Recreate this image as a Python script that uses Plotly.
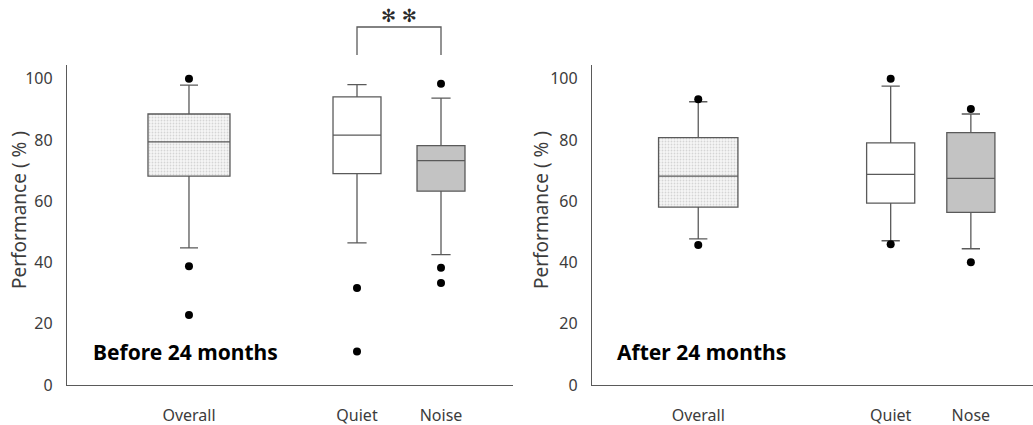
import plotly.graph_objects as go
from plotly.subplots import make_subplots

# ---- data ----
categories_before = ["Overall", "Quiet", "Noise"]
pos_before = [1.0, 3.0, 4.0]
q1_before = [68.2, 69.0, 63.3]
median_before = [79.4, 81.6, 73.3]
q3_before = [88.5, 94.1, 78.2]
low_before = [44.8, 46.4, 42.6]
high_before = [97.9, 98.1, 93.7]
outliers_before = [[100.0, 38.8, 22.9], [31.7, 10.9], [98.4, 38.3, 33.3]]

categories_after = ["Overall", "Quiet", "Nose"]
pos_after = [1.0, 3.4, 4.4]
q1_after = [58.1, 59.4, 56.4]
median_after = [68.2, 68.8, 67.5]
q3_after = [80.8, 79.1, 82.4]
low_after = [47.7, 47.1, 44.5]
high_after = [92.5, 97.6, 88.5]
outliers_after = [[93.3, 45.7], [100.0, 46.0], [90.1, 40.1]]

y_ticks = [0, 20, 40, 60, 80, 100]

# ---- styles ----
W, H = 1033, 425
line_c = "#5a5a5a"
txt_c = "#3c3c3c"
widths_before = [0.976, 0.571, 0.571]
widths_after = [0.99, 0.6, 0.6]
whisk_before = [0.22, 0.4, 0.4]
whisk_after = [0.23, 0.38, 0.38]
fills = ["pattern", "white", "#c3c3c3"]

fig = make_subplots(rows=1, cols=2)


def add_panel(col, cats, pos, q1, med, q3, lo, hi, outs, widths, whisk):
    for i in range(len(cats)):
        if fills[i] == "pattern":
            fig.add_trace(go.Bar(
                x=[pos[i]], base=[q1[i]], y=[q3[i] - q1[i]], width=widths[i],
                marker=dict(color="white", line=dict(width=0),
                            pattern=dict(shape=".", fgcolor="#b4b4b4", bgcolor="#f6f6f6",
                                         size=3, solidity=0.3)),
                showlegend=False, hoverinfo="skip"), row=1, col=col)
            fc = "rgba(0,0,0,0)"
        else:
            fc = fills[i]
        fig.add_trace(go.Box(
            x=[pos[i]], q1=[q1[i]], median=[med[i]], q3=[q3[i]],
            lowerfence=[lo[i]], upperfence=[hi[i]], width=widths[i],
            whiskerwidth=whisk[i], fillcolor=fc, line=dict(color=line_c, width=1.3),
            boxpoints=False, showlegend=False, hoverinfo="skip"), row=1, col=col)
        fig.add_trace(go.Scatter(
            x=[pos[i]] * len(outs[i]), y=outs[i], mode="markers",
            marker=dict(color="black", size=8), showlegend=False, hoverinfo="skip"),
            row=1, col=col)


add_panel(1, categories_before, pos_before, q1_before, median_before, q3_before,
          low_before, high_before, outliers_before, widths_before, whisk_before)
add_panel(2, categories_after, pos_after, q1_after, median_after, q3_after,
          low_after, high_after, outliers_after, widths_after, whisk_after)

font_main = "Noto Sans"
ydom = [(H - 385) / H, (H - 65) / H]
fig.update_layout(
    width=W, height=H, margin=dict(l=0, r=0, t=0, b=0),
    paper_bgcolor="white", plot_bgcolor="white",
    font=dict(family=font_main, color=txt_c, size=16),
    barmode="overlay", boxmode="overlay",
    xaxis=dict(domain=[67 / W, 513 / W], range=[-0.452, 4.857],
               tickvals=pos_before, ticktext=categories_before),
    xaxis2=dict(domain=[592 / W, 1.0], range=[-0.325, 5.175],
                tickvals=pos_after, ticktext=categories_after),
    yaxis=dict(domain=ydom),
    yaxis2=dict(domain=ydom),
)
fig.update_xaxes(showline=True, linecolor=line_c, linewidth=1.3, showgrid=False,
                 zeroline=False, ticks="outside", ticklen=16, tickcolor="rgba(0,0,0,0)",
                 tickfont=dict(size=16, color=txt_c), automargin=False, fixedrange=True)
fig.update_yaxes(showline=True, linecolor=line_c, linewidth=1.3, showgrid=False,
                 zeroline=False, range=[0, 104.5], tickvals=y_ticks,
                 ticks="outside", ticklen=10, tickcolor="rgba(0,0,0,0)",
                 tickfont=dict(size=16, color=txt_c), automargin=False, fixedrange=True)

# y-axis titles
for xp in [19 / W, 541 / W]:
    fig.add_annotation(text="Performance ( % )", xref="paper", yref="paper",
                       x=xp, y=(H - 210) / H, showarrow=False, textangle=-90,
                       font=dict(size=19, color=txt_c, family=font_main),
                       xanchor="center", yanchor="middle")

# panel labels
fig.add_annotation(text="<b>Before 24 months</b>", xref="paper", yref="paper",
                   x=91 / W, y=(H - 352) / H, showarrow=False, xanchor="left",
                   yanchor="middle", font=dict(size=21, color="black", family=font_main))
fig.add_annotation(text="<b>After 24 months</b>", xref="paper", yref="paper",
                   x=615 / W, y=(H - 352) / H, showarrow=False, xanchor="left",
                   yanchor="middle", font=dict(size=21, color="black", family=font_main))

# significance bracket
yb_top = (H - 27) / H
yb_bot = (H - 55) / H
fig.add_shape(type="path", xref="x", yref="paper",
              path=f"M {pos_before[1]},{yb_bot} L {pos_before[1]},{yb_top} "
                   f"L {pos_before[2]},{yb_top} L {pos_before[2]},{yb_bot}",
              line=dict(color=line_c, width=1.3))
fig.add_annotation(text="✻ ✻", xref="x", yref="paper",
                   x=(pos_before[1] + pos_before[2]) / 2, y=(H - 16) / H,
                   showarrow=False, xanchor="center", yanchor="middle",
                   font=dict(size=18, color="#2a2a2a", family="DejaVu Sans"))

fig.write_html("out.html")
